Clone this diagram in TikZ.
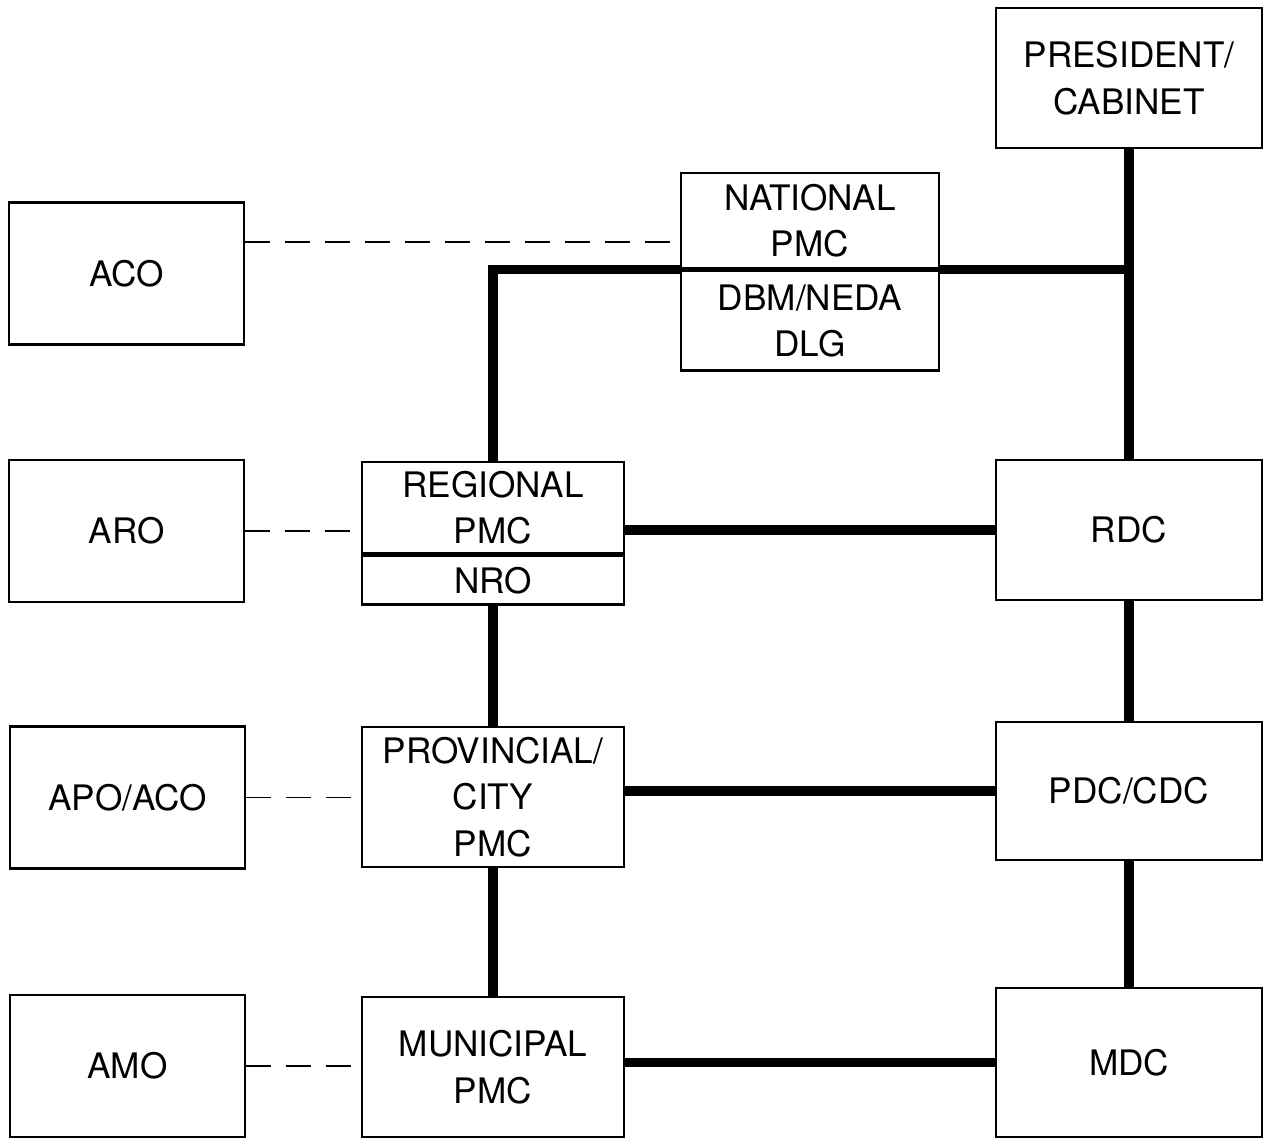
\documentclass[tikz,border=0pt]{standalone}
\usepackage{fontspec}
\setmainfont{TeX Gyre Heros}
\usetikzlibrary{positioning}
\usetikzlibrary{calc}

\begin{document}
\begin{tikzpicture}[x=0.02cm,y=-0.02cm]
\tikzstyle{unit}=[draw,line width=1.6pt,align=center,inner sep=0cm,font=\fontsize{20}{26.5}\selectfont]
\tikzstyle{office}=[unit,minimum width=4.7cm,minimum height=2.84cm]
\tikzstyle{pmc}=[unit,minimum width=5.24cm,minimum height=2.8cm]
\tikzstyle{council}=[unit,minimum width=5.32cm,minimum height=2.8cm]
\tikzstyle{chain}=[line width=5.5pt]
\tikzstyle{link}=[line width=1.1pt,dash pattern=on 0.5cm off 0.3cm]
\useasboundingbox (0,0) rectangle (1271,1147);
\node [council] (pres) at (1129,78) {PRESIDENT/\\CABINET};
\node [unit, minimum width=5.16cm, minimum height=1.9cm] (nat) at (810,220.5) {NATIONAL\\PMC};
\node [unit, minimum width=5.16cm, minimum height=2cm, below=0cm of nat] (natsub) {DBM/NEDA\\DLG};
\node [office] (aco) at (126.5,273.5) {ACO};
\node [unit, minimum width=5.24cm, minimum height=1.82cm] (reg) at (493,507.5) {REGIONAL\\PMC};
\node [unit, minimum width=5.24cm, minimum height=0.98cm, below=0cm of reg] (nro) {NRO};
\node [office] (aro) at (126.5,531) {ARO};
\node [council] (rdc) at (1129,530) {RDC};
\node [pmc] (prov) at (493,797) {PROVINCIAL/\\CITY\\PMC};
\node [office] (apo) at (127.5,797.5) {APO/ACO};
\node [council, minimum height=2.76cm] (pdc) at (1129,791) {PDC/CDC};
\node [pmc] (mun) at (493,1067) {MUNICIPAL\\PMC};
\node [office] (amo) at (127.5,1066) {AMO};
\node [council, minimum height=2.98cm] (mdc) at (1129,1062.5) {MDC};
\coordinate (corner) at (reg.north |- nat.south west);
\draw [chain] (reg.north) -- (corner) -- (nat.south west);
\draw [chain] (nat.south east) -- (pres.south |- nat.south east);
\draw [chain] (pres.south) -- (rdc.north);
\draw [chain] (rdc.west) -- (rdc.west -| reg.east);
\draw [chain] (nro.south) -- (prov.north);
\draw [chain] (rdc.south) -- (pdc.north);
\draw [chain] (pdc.west) -- (pdc.west -| prov.east);
\draw [chain] (prov.south) -- (mun.north);
\draw [chain] (pdc.south) -- (mdc.north);
\draw [chain] (mdc.west) -- (mdc.west -| mun.east);
\coordinate (natdash) at ($(nat.west)+(0,21.5)$);
\draw [link] (natdash -| aco.east) -- (natdash);
\draw [link] (aro.east) -- (aro.east -| reg.west);
\draw [link] (apo.east) -- (apo.east -| prov.west);
\draw [link] (amo.east) -- (amo.east -| mun.west);
\end{tikzpicture}
\end{document}
